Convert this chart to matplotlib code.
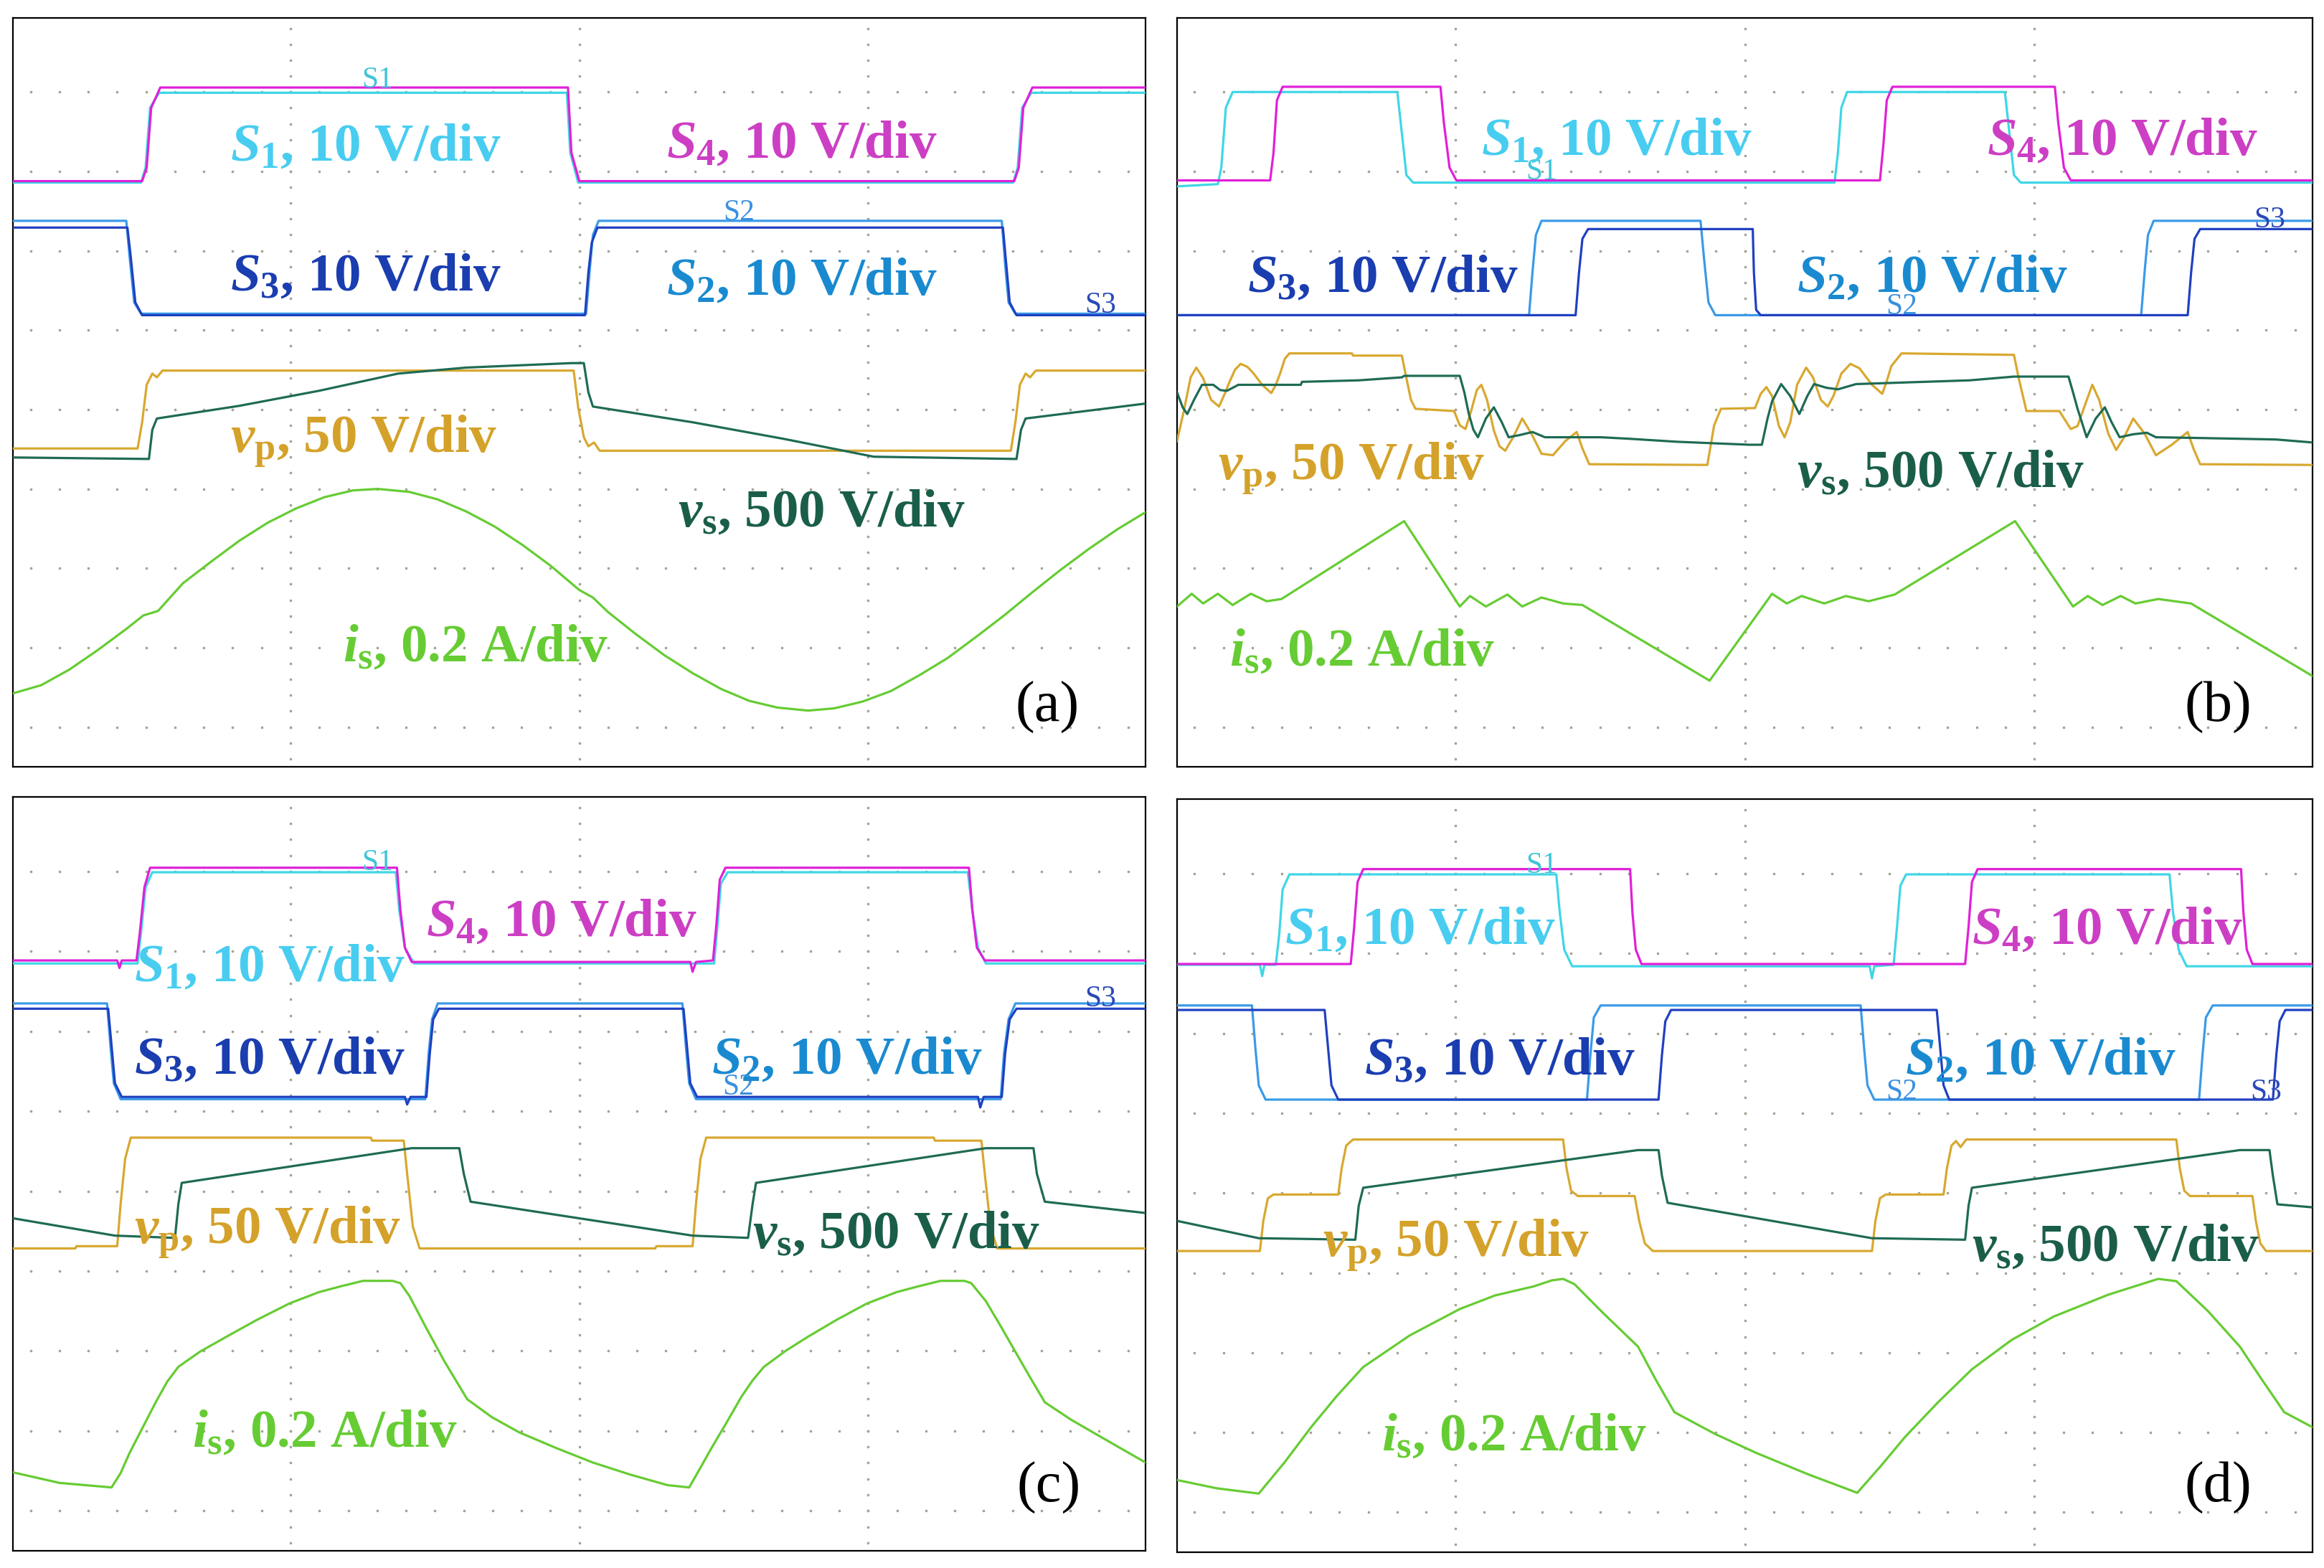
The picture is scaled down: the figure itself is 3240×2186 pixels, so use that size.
import matplotlib.pyplot as plt
import numpy as np

plt.rcParams['mathtext.fontset'] = 'custom'
plt.rcParams['mathtext.rm'] = 'Liberation Serif:bold'
plt.rcParams['mathtext.it'] = 'Liberation Serif:italic:bold'
plt.rcParams['mathtext.bf'] = 'Liberation Serif:bold'

# panel coordinates: x, y in percent of the scope screen (y up)
GRID_X = [24.5, 50.0, 75.5]
GRID_Y = [90.1, 79.5, 68.9, 58.3, 47.7, 37.1, 26.5, 15.9, 5.3]

# ---------------- panel (a) ----------------
a_s1 = [(0, 78.0), (11.3, 78.0), (11.7, 80), (12.1, 88), (12.9, 90.0), (48.9, 90.0), (49.2, 82), (49.9, 78.0),
        (88.3, 78.0), (88.7, 80), (89.1, 88), (89.9, 90.0), (100, 90.0)]
a_s4 = [(0, 78.2), (11.4, 78.2), (11.8, 80), (12.2, 88), (13.0, 90.7), (49.0, 90.7), (49.3, 82), (50.0, 78.2),
        (88.4, 78.2), (88.8, 80), (89.2, 88), (90.0, 90.7), (100, 90.7)]
a_s2 = [(0, 72.9), (10.0, 72.9), (10.3, 68), (10.7, 62), (11.3, 60.5), (50.6, 60.5), (50.9, 66), (51.2, 71),
        (51.7, 72.9), (87.3, 72.9), (87.6, 67), (87.9, 62), (88.5, 60.5), (100, 60.5)]
a_s3 = [(0, 72.0), (10.1, 72.0), (10.4, 68), (10.8, 62), (11.4, 60.3), (50.5, 60.3), (50.8, 66), (51.1, 70),
        (51.6, 72.0), (87.4, 72.0), (87.7, 67), (88.0, 62), (88.6, 60.3), (100, 60.3)]
a_vp = [(0, 42.5), (11.0, 42.5), (11.4, 46), (11.8, 51), (12.3, 52.5), (12.7, 52.0), (13.2, 52.9), (49.5, 52.9),
        (49.9, 48), (50.4, 44), (50.8, 42.8), (51.3, 43.3), (51.8, 42.2), (88.1, 42.2), (88.5, 46), (88.9, 51),
        (89.4, 52.5), (89.8, 52.0), (90.3, 52.9), (100, 52.9)]
a_vs = [(0, 41.3), (12.0, 41.1), (12.3, 45), (12.7, 46.5), (20, 48.2), (27, 50.2), (34, 52.5), (40, 53.3),
        (49.3, 53.9), (50.4, 53.9), (50.8, 50), (51.2, 48.1), (60, 46.0), (68, 43.8), (74, 42.0), (76, 41.4),
        (88.6, 41.1), (89.0, 45), (89.4, 46.5), (100, 48.5)]
a_is = [(0, 9.8), (2.5, 10.9), (5, 13.0), (7.5, 15.6), (10, 18.4), (11.5, 20.2), (12.8, 20.8), (15, 24.5),
        (17.5, 27.4), (20, 30.2), (22.5, 32.6), (25, 34.5), (27.5, 36.0), (30, 36.9), (32.2, 37.1),
        (35, 36.7), (37.5, 35.7), (40, 34.1), (42.5, 32.1), (45, 29.6), (47.5, 26.8), (50, 23.6), (51.2, 22.6),
        (52.5, 20.7), (55, 17.7), (57.5, 14.9), (60, 12.5), (62.5, 10.4), (65, 8.8), (67.5, 7.9), (70.2, 7.5),
        (72.5, 7.8), (75, 8.7), (77.5, 10.1), (80, 12.2), (82.5, 14.5), (85, 17.3), (87.5, 20.2), (90, 23.3),
        (92.5, 26.3), (95, 29.1), (97.5, 31.7), (100, 34.0)]

# ---------------- panel (b) ----------------
b_s1 = [(0, 77.5), (3.6, 77.8), (3.9, 80), (4.3, 88), (4.9, 90.1), (19.4, 90.1), (19.7, 86), (20.2, 79),
        (20.8, 78.0), (57.9, 78.0), (58.2, 82), (58.5, 88), (59.0, 90.1), (72.9, 90.1), (73.2, 86), (73.7, 79),
        (74.3, 78.0), (100, 78.0)]
b_s4 = [(0, 78.3), (8.2, 78.3), (8.5, 82), (8.8, 89), (9.3, 90.8), (23.2, 90.8), (23.5, 86), (24.0, 80),
        (24.6, 78.3), (61.9, 78.3), (62.2, 83), (62.5, 89), (63.0, 90.8), (77.3, 90.8), (77.6, 86), (78.1, 80),
        (78.7, 78.3), (100, 78.3)]
b_s2 = [(0, 60.3), (31.0, 60.3), (31.3, 66), (31.6, 71), (32.1, 72.9), (46.1, 72.9), (46.4, 68), (46.8, 62),
        (47.4, 60.3), (84.9, 60.3), (85.2, 66), (85.5, 71), (86.0, 72.9), (100, 72.9)]
b_s3 = [(0, 60.3), (35.1, 60.3), (35.4, 66), (35.7, 70.5), (36.2, 71.8), (50.7, 71.8), (50.8, 66), (51.0, 61),
        (51.4, 60.3), (89.0, 60.3), (89.3, 66), (89.6, 70.5), (90.1, 71.8), (100, 71.8)]
b_vp = [(0, 43.5), (0.6, 47.5), (1.2, 52.0), (1.7, 53.3), (2.3, 51.9), (3.0, 49.0), (3.7, 48.1), (4.2, 49.8),
        (4.6, 51.3), (5.1, 53.0), (5.6, 53.8), (6.2, 53.4), (6.7, 52.6), (7.5, 51.0), (8.3, 49.9), (8.7, 51.0),
        (9.1, 52.6), (9.5, 54.5), (9.9, 55.2), (15.4, 55.2), (15.5, 54.9), (19.8, 54.9), (20.2, 51.9),
        (20.6, 49.0), (21.0, 47.8), (24.4, 47.5), (24.9, 45.6), (25.4, 45.1), (25.9, 47.5), (26.4, 50.3),
        (26.8, 51.0), (27.3, 49.0), (27.9, 44.9), (28.4, 42.8), (28.9, 42.2), (29.6, 44.0), (30.4, 46.5),
        (31.2, 44.5), (32.1, 41.8), (33.1, 41.6), (34.2, 43.5), (35.2, 44.7), (35.7, 42.5), (36.3, 40.4),
        (46.7, 40.3), (47.3, 45.6), (47.9, 47.8), (50.9, 47.9), (51.4, 49.8), (51.9, 50.7), (52.4, 49.5),
        (53.0, 45.5), (53.5, 44.0), (54.0, 46.0), (54.6, 51.0), (55.4, 53.3), (56.0, 52.0), (56.7, 49.0),
        (57.3, 48.1), (57.8, 49.5), (58.5, 52.5), (59.3, 53.8), (60.1, 53.2), (61.2, 51.0), (62.1, 49.8),
        (62.5, 51.5), (62.9, 53.5), (63.8, 55.2), (73.7, 55.0), (74.1, 52.0), (74.8, 47.5), (77.7, 47.5),
        (78.7, 45.1), (79.3, 45.5), (80.0, 48.5), (80.6, 51.0), (81.2, 49.0), (82.0, 44.5), (82.7, 42.3),
        (83.4, 44.0), (84.2, 46.5), (85.2, 44.5), (86.2, 41.6), (87.6, 43.0), (89.0, 44.7), (89.5, 42.5),
        (90.1, 40.4), (100, 40.3)]
b_vs = [(0, 50.0), (0.5, 48.0), (0.9, 47.1), (1.5, 49.0), (2.2, 51.0), (3.2, 51.0), (3.8, 50.3), (4.4, 50.2),
        (5.4, 51.0), (10.9, 51.0), (11.0, 51.4), (16, 51.6), (19.8, 52.0), (20.0, 52.2), (24.9, 52.2),
        (25.3, 50.0), (25.7, 47.1), (26.1, 45.0), (26.5, 44.0), (27.2, 46.5), (27.9, 48.0), (28.6, 46.0),
        (29.2, 44.0), (30.2, 44.3), (31.3, 44.7), (32.4, 44.0), (37.3, 44.0), (39.8, 43.8), (44, 43.4),
        (50.4, 43.0), (51.5, 43.0), (52.0, 46.5), (52.4, 48.8), (53.2, 51.1), (54.0, 49.5), (54.8, 47.1),
        (55.5, 49.5), (56.1, 51.1), (57.2, 50.6), (58.2, 50.4), (59.8, 51.1), (69.8, 51.6), (73.7, 52.1),
        (78.5, 52.1), (78.9, 50.0), (79.3, 47.8), (80.1, 44.0), (80.9, 46.5), (81.7, 48.0), (82.3, 46.0),
        (83.0, 44.0), (84.2, 44.4), (85.4, 44.6), (86.2, 44.0), (90, 43.9), (96.8, 43.7), (100, 43.3)]
b_is = [(0, 21.4), (1.3, 23.1), (2.3, 21.8), (3.6, 23.1), (4.9, 21.6), (6.5, 23.1), (7.9, 22.1), (9.2, 22.4),
        (20.0, 32.8), (24.9, 21.4), (25.8, 22.8), (27.2, 21.4), (29.1, 23.0), (30.4, 21.4), (32.1, 22.6),
        (34.0, 21.8), (35.7, 21.6), (46.9, 11.5), (52.4, 23.1), (53.7, 21.8), (55.0, 22.8), (57.0, 21.8),
        (58.9, 22.8), (60.9, 22.1), (63.2, 23.0), (73.8, 32.8), (78.9, 21.4), (80.2, 22.8), (81.5, 21.6),
        (83.1, 22.8), (84.4, 21.8), (86.4, 22.4), (89.3, 21.8), (100, 12.1)]

# ---------------- panel (c) ----------------
c_s1 = [(0, 77.9), (11.0, 77.9), (11.3, 82), (11.7, 88), (12.3, 90.0), (33.8, 90.0), (34.1, 85), (34.6, 80),
        (35.4, 77.9), (61.9, 77.9), (62.2, 83), (62.5, 88.5), (63.1, 90.0), (84.3, 90.0), (84.7, 85), (85.2, 80),
        (85.9, 77.9), (100, 77.9)]
c_s4 = [(0, 78.3), (9.2, 78.3), (9.4, 77.3), (9.6, 78.3), (10.9, 78.3), (11.2, 82), (11.6, 88), (12.1, 90.6),
        (33.9, 90.6), (34.2, 85), (34.6, 80), (35.2, 78.1), (59.8, 78.1), (60.0, 76.8), (60.3, 78.1),
        (61.8, 78.3), (62.1, 83), (62.4, 89), (62.9, 90.6), (84.4, 90.6), (84.7, 85), (85.1, 80), (85.8, 78.3),
        (100, 78.3)]
c_s2 = [(0, 72.6), (8.3, 72.6), (8.6, 67), (8.9, 62), (9.5, 59.9), (36.4, 59.9), (36.7, 66), (37.0, 70.5),
        (37.5, 72.6), (59.1, 72.6), (59.4, 67), (59.7, 62), (60.3, 59.9), (87.2, 59.9), (87.5, 66), (87.9, 70.5),
        (88.5, 72.6), (100, 72.6)]
c_s3 = [(0, 71.9), (8.4, 71.9), (8.7, 67), (9.0, 62), (9.6, 60.2), (34.6, 60.2), (34.8, 59.2), (35.1, 60.2),
        (36.5, 60.2), (36.8, 66), (37.1, 70.5), (37.6, 71.9), (59.2, 71.9), (59.5, 67), (59.8, 62), (60.4, 60.2),
        (85.2, 60.2), (85.4, 58.8), (85.7, 60.2), (87.3, 60.2), (87.6, 66), (88.0, 70.5), (88.6, 71.9),
        (100, 71.9)]
c_vp = [(0, 40.1), (5.5, 40.1), (5.6, 40.4), (9.2, 40.4), (9.5, 46), (9.9, 52), (10.4, 54.8), (31.6, 54.8),
        (31.7, 54.4), (34.5, 54.4), (34.8, 50), (35.3, 43), (35.9, 40.1), (56.7, 40.1), (56.8, 40.4),
        (60.0, 40.4), (60.3, 46), (60.7, 52), (61.2, 54.8), (81.3, 54.8), (81.4, 54.4), (85.5, 54.4),
        (85.8, 50), (86.3, 43), (86.9, 40.1), (100, 40.1)]
c_vs = [(0, 44.1), (9.0, 41.8), (14.3, 41.5), (14.6, 46), (14.9, 48.8), (35.2, 53.4), (39.4, 53.4), (39.8, 50),
        (40.4, 46.3), (60.0, 41.8), (64.9, 41.5), (65.3, 46), (65.6, 48.8), (85.9, 53.4), (90.1, 53.4),
        (90.4, 50), (91.1, 46.3), (100, 44.8)]
c_is = [(0, 10.4), (4.1, 9.0), (8.7, 8.4), (9.5, 10.3), (10.3, 13.0), (11.5, 16.5), (12.6, 19.7), (13.6, 22.4),
        (14.6, 24.4), (16.5, 26.4), (18.5, 28.1), (21.5, 30.6), (24.4, 32.8), (27.0, 34.3), (29.0, 35.1),
        (30.9, 35.8), (33.5, 35.8), (34.2, 35.5), (35.0, 33.8), (36.5, 29.5), (38.1, 25.1), (40.1, 20.1),
        (42.3, 17.7), (44.7, 15.7), (48.0, 13.6), (51.2, 11.7), (54.5, 10.1), (57.8, 8.7), (59.7, 8.4),
        (60.5, 10.5), (61.7, 13.7), (63.0, 17.0), (64.3, 20.4), (65.3, 22.6), (66.3, 24.4), (68.2, 26.5),
        (70.2, 28.4), (72.8, 30.7), (75.4, 32.8), (78.0, 34.3), (80.0, 35.1), (81.9, 35.8), (84.0, 35.8),
        (84.6, 35.5), (85.9, 33.1), (87.2, 29.8), (88.5, 26.4), (89.8, 23.0), (91.1, 19.7), (93.4, 17.4),
        (95.7, 15.4), (100, 11.7)]

# ---------------- panel (d) ----------------
d_s1 = [(0, 78.0), (7.3, 78.0), (7.5, 76.5), (7.7, 78.0), (8.7, 78.0), (9.0, 82), (9.3, 88), (9.9, 90.0),
        (33.4, 90.0), (33.7, 85), (34.1, 80), (34.8, 77.8), (61.0, 77.8), (61.2, 76.2), (61.4, 77.8),
        (63.1, 78.0), (63.4, 83), (63.7, 88.5), (64.2, 90.0), (87.4, 90.0), (87.7, 85), (88.2, 80), (88.9, 77.8),
        (100, 77.8)]
d_s4 = [(0, 78.1), (15.3, 78.1), (15.6, 83), (15.9, 89), (16.4, 90.7), (39.9, 90.7), (40.1, 85), (40.4, 80),
        (40.9, 78.1), (69.4, 78.1), (69.7, 83), (70.0, 89), (70.5, 90.7), (93.7, 90.7), (93.9, 85), (94.2, 80),
        (94.7, 78.1), (100, 78.1)]
d_s2 = [(0, 72.6), (6.6, 72.6), (6.9, 67), (7.2, 62), (7.8, 60.1), (36.1, 60.1), (36.4, 66), (36.7, 71),
        (37.3, 72.6), (60.2, 72.6), (60.5, 67), (60.8, 62), (61.4, 60.1), (90.0, 60.1), (90.3, 66), (90.6, 71),
        (91.2, 72.6), (100, 72.6)]
d_s3 = [(0, 72.0), (13.0, 72.0), (13.3, 67), (13.6, 62), (14.2, 60.1), (42.4, 60.1), (42.7, 66), (43.0, 70.5),
        (43.5, 72.0), (66.9, 72.0), (67.2, 67), (67.5, 62), (68.0, 60.1), (96.5, 60.1), (96.8, 66), (97.1, 70.5),
        (97.6, 72.0), (100, 72.0)]
d_vp = [(0, 40.0), (7.3, 40.0), (7.6, 44), (8.0, 47), (8.5, 47.5), (14.2, 47.5), (14.5, 51), (14.9, 54),
        (15.5, 54.8), (34.0, 54.8), (34.3, 51), (34.7, 48), (35.3, 47.3), (40.3, 47.3), (40.7, 44), (41.2, 41),
        (41.9, 40.0), (61.2, 40.0), (61.5, 44), (61.9, 47), (62.4, 47.5), (67.5, 47.5), (67.8, 51), (68.2, 54),
        (68.6, 54.6), (69.0, 53.8), (69.5, 54.8), (88.0, 54.8), (88.3, 51), (88.7, 48), (89.2, 47.3),
        (94.7, 47.3), (95.0, 44), (95.4, 41), (95.9, 40.0), (100, 40.0)]
d_vs = [(0, 44.0), (7.2, 41.7), (15.7, 41.5), (16.0, 46), (16.4, 48.4), (40.6, 53.4), (42.4, 53.4), (42.7, 50),
        (43.2, 46.4), (61.2, 41.7), (69.4, 41.5), (69.7, 46), (70.0, 48.4), (93.6, 53.4), (96.2, 53.4),
        (96.5, 50), (96.9, 46.2), (100, 45.8)]
d_is = [(0, 9.6), (3.5, 8.5), (7.2, 7.8), (9.5, 12.0), (11.8, 16.6), (14.1, 20.8), (16.4, 24.6), (20.5, 28.8),
        (24.9, 32.3), (28.0, 34.1), (31.4, 35.3), (33.0, 36.1), (34.0, 36.3), (35.0, 35.6), (37.5, 31.8),
        (40.6, 27.3), (42.2, 22.8), (43.8, 18.6), (47.4, 15.7), (51.0, 13.2), (55.5, 10.4), (59.9, 7.9),
        (62.0, 11.5), (64.1, 15.3), (67.0, 19.9), (70.0, 24.3), (73.5, 28.2), (77.2, 31.3), (82.0, 34.2),
        (86.4, 36.3), (88.0, 36.0), (90.8, 32.0), (93.6, 27.3), (95.5, 23.0), (97.5, 18.6), (100, 16.6)]

# labels: (x_left, y_baseline) per panel, order S1, S4, S3, S2, vp, vs, is, tag
a_lab = [(19.2, 81.0), (57.7, 81.4), (19.2, 63.6), (57.7, 63.1), (19.2, 42.1), (58.7, 32.1), (29.1, 14.1), (88.5, 6.0)]
b_lab = [(26.8, 81.7), (71.3, 81.7), (6.2, 63.4), (54.6, 63.4), (3.6, 38.4), (54.6, 37.4), (4.6, 13.5), (88.7, 6.0)]
c_lab = [(10.7, 75.6), (36.5, 81.6), (10.7, 63.3), (61.7, 63.3), (10.7, 40.8), (65.3, 40.2), (15.8, 13.8), (88.6, 6.5)]
d_lab = [(9.5, 80.8), (70.0, 80.8), (16.5, 63.5), (64.1, 63.5), (12.8, 39.4), (70.0, 38.7), (18.0, 13.6), (88.7, 6.7)]

# small probe tags S1, S2, S3 (x, y centre)
a_tag = [(32.2, 91.7), (64.1, 74.0), (96.0, 61.6)]
b_tag = [(32.1, 79.4), (63.8, 61.4), (96.2, 73.0)]
c_tag = [(32.2, 91.3), (64.0, 61.5), (96.0, 73.2)]
d_tag = [(32.1, 91.2), (63.8, 61.1), (95.9, 61.1)]

LINE_COL = {'s1': '#3fd6e6', 's4': '#e020d8', 's2': '#3a9ae8', 's3': '#2040c0',
            'vp': '#d8a830', 'vs': '#1f6b55', 'is': '#66cc33'}
TEXT_COL = ['#48cdf0', '#cc3fc4', '#1a3db0', '#1a8ad0', '#d4a22a', '#1a5e4a', '#66cc33']
LABELS = [r'$S_1$, 10 V/div', r'$S_4$, 10 V/div', r'$S_3$, 10 V/div', r'$S_2$, 10 V/div',
          r'$v_\mathrm{p}$, 50 V/div', r'$v_\mathrm{s}$, 500 V/div', r'$i_\mathrm{s}$, 0.2 A/div']
TAGS = ['S1', 'S2', 'S3']
TAG_COL = ['#40c4d8', '#3a90e0', '#2a48b8']

fig = plt.figure(figsize=(32.41, 21.86), dpi=100)

boxes = {
    'a': [0.0056, 0.511, 0.4872, 0.4776],
    'b': [0.5063, 0.511, 0.4885, 0.4776],
    'c': [0.0056, 0.0110, 0.4872, 0.4808],
    'd': [0.5063, 0.0100, 0.4885, 0.4804],
}
panels = {
    'a': (a_s1, a_s4, a_s2, a_s3, a_vp, a_vs, a_is, a_lab, a_tag),
    'b': (b_s1, b_s4, b_s2, b_s3, b_vp, b_vs, b_is, b_lab, b_tag),
    'c': (c_s1, c_s4, c_s2, c_s3, c_vp, c_vs, c_is, c_lab, c_tag),
    'd': (d_s1, d_s4, d_s2, d_s3, d_vp, d_vs, d_is, d_lab, d_tag),
}

for name, (s1, s4, s2, s3, vp, vs, is_, lab, tag) in panels.items():
    ax = fig.add_axes(boxes[name])
    ax.set_xlim(0, 100)
    ax.set_ylim(0, 100)
    ax.set_xticks([])
    ax.set_yticks([])
    for sp in ax.spines.values():
        sp.set_linewidth(1.6)
        sp.set_color('black')

    # dotted scope graticule
    gx = np.arange(GRID_X[0] - 2.55 * 9, 100, 2.55)
    for y in GRID_Y:
        ax.plot(gx, [y] * len(gx), ls='none', marker='s', ms=1.9, color='#a4a494', zorder=1)
    gy = np.arange(GRID_Y[0], 0, -2.12)
    gy = np.concatenate([gy, np.arange(GRID_Y[0] + 2.12, 100, 2.12)])
    for x in GRID_X:
        ax.plot([x] * len(gy), gy, ls='none', marker='s', ms=1.9, color='#a4a494', zorder=1)

    for key, tr in (('s1', s1), ('s4', s4), ('s2', s2), ('s3', s3), ('vp', vp), ('vs', vs), ('is', is_)):
        xs, ys = zip(*tr)
        ax.plot(xs, ys, color=LINE_COL[key], lw=2.3, zorder=3, solid_joinstyle='round')

    for (x, y), t, c in zip(tag, TAGS, TAG_COL):
        ax.text(x, y, t, color=c, fontsize=30, family='Liberation Serif',
                ha='center', va='center', zorder=4)

    for (x, y), t, c in zip(lab[:7], LABELS, TEXT_COL):
        ax.text(x, y, t, color=c, fontsize=54, family='Liberation Serif', fontweight='bold',
                ha='left', va='baseline', zorder=5)
    ax.text(lab[7][0], lab[7][1], '(%s)' % name, color='black', fontsize=58,
            family='Liberation Serif', ha='left', va='baseline', zorder=5)

fig.savefig('out.png', dpi=100)
plt.close(fig)
